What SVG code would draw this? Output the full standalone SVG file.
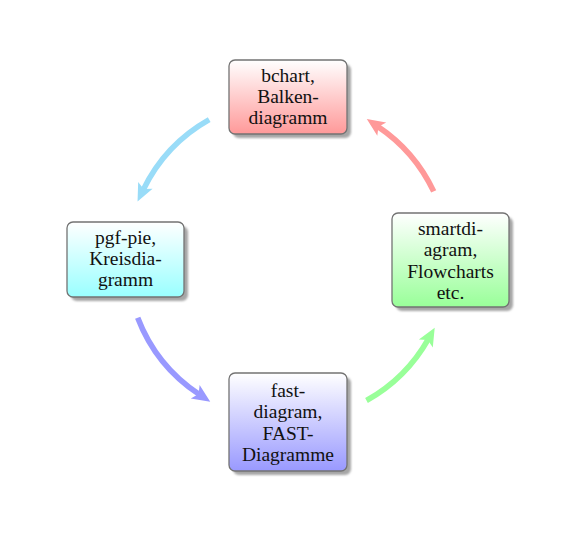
<svg xmlns="http://www.w3.org/2000/svg" width="577" height="533" viewBox="0 0 577 533">
<defs>
<style>
.box{stroke:#737373;stroke-width:1.3}
.shadow{fill:#a6a6a6}
.t{font-family:"Liberation Serif","DejaVu Serif",serif;font-size:19.5px;fill:#111111;text-anchor:middle}
.arc{fill:none;stroke-width:5.6;stroke-linecap:butt}
</style>
<linearGradient id="gRed" x1="0" y1="0" x2="0" y2="1"><stop offset="0" stop-color="#ffffff"/><stop offset="1" stop-color="#ff9999"/></linearGradient>
<linearGradient id="gCyan" x1="0" y1="0" x2="0" y2="1"><stop offset="0" stop-color="#ffffff"/><stop offset="1" stop-color="#99ffff"/></linearGradient>
<linearGradient id="gGreen" x1="0" y1="0" x2="0" y2="1"><stop offset="0" stop-color="#ffffff"/><stop offset="1" stop-color="#99ff99"/></linearGradient>
<linearGradient id="gBlue" x1="0" y1="0" x2="0" y2="1"><stop offset="0" stop-color="#ffffff"/><stop offset="1" stop-color="#9999ff"/></linearGradient>
<filter id="blur" x="-10%" y="-10%" width="120%" height="120%"><feGaussianBlur stdDeviation="0.8"/></filter>
<marker id="mRed" markerUnits="userSpaceOnUse" orient="auto" refX="0" refY="0" markerWidth="20" markerHeight="20" viewBox="-6 -9 20 18" overflow="visible"><path d="M13,0 L-5,-8 L-1,0 L-5,8 Z" fill="#ff9999"/></marker>
<marker id="mLB" markerUnits="userSpaceOnUse" orient="auto" refX="0" refY="0" markerWidth="20" markerHeight="20" viewBox="-6 -9 20 18" overflow="visible"><path d="M13,0 L-5,-8 L-1,0 L-5,8 Z" fill="#99dcf8"/></marker>
<marker id="mBlue" markerUnits="userSpaceOnUse" orient="auto" refX="0" refY="0" markerWidth="20" markerHeight="20" viewBox="-6 -9 20 18" overflow="visible"><path d="M13,0 L-5,-8 L-1,0 L-5,8 Z" fill="#9999ff"/></marker>
<marker id="mGreen" markerUnits="userSpaceOnUse" orient="auto" refX="0" refY="0" markerWidth="20" markerHeight="20" viewBox="-6 -9 20 18" overflow="visible"><path d="M13,0 L-5,-8 L-1,0 L-5,8 Z" fill="#99ff99"/></marker>
</defs>
<rect width="577" height="533" fill="#ffffff"/>
<g id="connectors">
<path class="arc" stroke="#99dcf8" d="M209.2,119.6 A161,161 0 0 0 143.2,189.9" marker-end="url(#mLB)"/>
<path class="arc" stroke="#9999ff" d="M137.7,317.7 A161,161 0 0 0 199.4,394.5" marker-end="url(#mBlue)"/>
<path class="arc" stroke="#99ff99" d="M366.5,400.5 A161,161 0 0 0 428.3,339.1" marker-end="url(#mGreen)"/>
<path class="arc" stroke="#ff9999" d="M433.7,191.4 A161,161 0 0 0 377.6,126.3" marker-end="url(#mRed)"/>
</g>
<g id="node-bchart">
<rect class="shadow" x="233" y="64" width="118" height="74" rx="6" filter="url(#blur)"/>
<rect class="box" x="229" y="60" width="118" height="74" rx="6" fill="url(#gRed)"/>
<text class="t" x="288" y="82">bchart,</text>
<text class="t" x="288" y="103">Balken-</text>
<text class="t" x="288" y="124">diagramm</text>
</g>
<g id="node-pgfpie">
<rect class="shadow" x="71" y="226" width="117" height="75" rx="6" filter="url(#blur)"/>
<rect class="box" x="67" y="222" width="117" height="75" rx="6" fill="url(#gCyan)"/>
<text class="t" x="125.5" y="244">pgf-pie,</text>
<text class="t" x="125.5" y="265">Kreisdia-</text>
<text class="t" x="125.5" y="286">gramm</text>
</g>
<g id="node-smartdiagram">
<rect class="shadow" x="396" y="217" width="117" height="94" rx="6" filter="url(#blur)"/>
<rect class="box" x="392" y="213" width="117" height="94" rx="6" fill="url(#gGreen)"/>
<text class="t" x="450.5" y="235">smartdi-</text>
<text class="t" x="450.5" y="256">agram,</text>
<text class="t" x="450.5" y="278">Flowcharts</text>
<text class="t" x="450.5" y="299">etc.</text>
</g>
<g id="node-fast">
<rect class="shadow" x="233" y="377" width="118" height="98" rx="6" filter="url(#blur)"/>
<rect class="box" x="229" y="373" width="118" height="98" rx="6" fill="url(#gBlue)"/>
<text class="t" x="288" y="397">fast-</text>
<text class="t" x="288" y="418">diagram,</text>
<text class="t" x="288" y="440">FAST-</text>
<text class="t" x="288" y="461">Diagramme</text>
</g>
</svg>
